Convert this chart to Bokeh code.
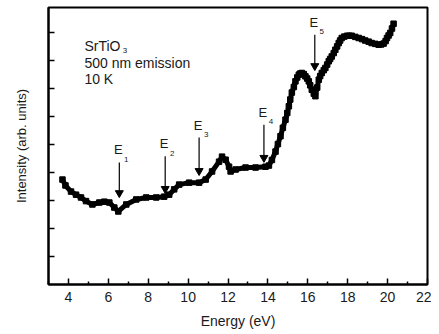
from bokeh.plotting import figure
from bokeh.models import FixedTicker, Range1d
from bokeh.core.properties import value
from bokeh.embed import file_html
from bokeh.resources import INLINE

# Data (energy in eV, intensity in arb. units)
energy = [3.70, 3.85, 4.13, 4.38, 4.63, 4.88, 5.20, 5.55, 5.80, 6.05, 6.30, 6.50,
          6.90, 7.40, 7.90, 8.40, 8.80, 9.05, 9.30, 9.55, 10.05, 10.55, 10.88, 11.20,
          11.55, 11.70, 11.88, 12.05, 12.13, 12.38, 12.88, 13.38, 13.88, 14.05,
          14.20, 14.38, 14.50, 14.63, 14.75, 14.88, 14.97, 15.05, 15.12, 15.20, 15.30,
          15.38, 15.47, 15.55, 15.62, 15.70, 15.80, 15.88, 15.97, 16.05, 16.12, 16.20,
          16.30, 16.38, 16.47, 16.55, 16.62, 16.70, 16.80, 16.88, 16.97, 17.05, 17.12,
          17.20, 17.30, 17.38, 17.47, 17.55, 17.62, 17.70, 17.83, 17.97, 18.08, 18.20,
          18.38, 18.55, 18.72, 18.88, 19.05, 19.20, 19.38, 19.55, 19.68, 19.80, 19.90,
          19.97, 20.05, 20.13, 20.22, 20.30]
intensity = [3.75, 3.54, 3.32, 3.21, 3.11, 2.98, 2.86, 2.93, 2.96, 2.93, 2.75, 2.61,
             2.86, 3.04, 3.11, 3.11, 3.14, 3.21, 3.40, 3.57, 3.64, 3.64, 3.75, 4.04,
             4.39, 4.57, 4.46, 4.21, 4.04, 4.11, 4.18, 4.18, 4.21, 4.25,
             4.45, 4.75, 5.02, 5.30, 5.60, 5.89, 6.13, 6.37, 6.61, 6.86, 7.06,
             7.26, 7.40, 7.50, 7.54, 7.56, 7.52, 7.44, 7.36, 7.26, 7.12, 6.96,
             6.82, 6.73, 7.04, 7.32, 7.45, 7.56, 7.66, 7.74, 7.86, 7.98, 8.06,
             8.15, 8.27, 8.39, 8.51, 8.63, 8.72, 8.81, 8.86, 8.89, 8.89, 8.89,
             8.85, 8.81, 8.77, 8.72, 8.68, 8.63, 8.60, 8.57, 8.58, 8.61, 8.70,
             8.81, 8.90, 8.99, 9.15, 9.32]

x_ticks = [4, 6, 8, 10, 12, 14, 16, 18, 20, 22]
x_minor = [3, 5, 7, 9, 11, 13, 15, 17, 19, 21]
y_ticks = [1, 2, 3, 4, 5, 6, 7, 8, 9]

# Arrows marking features: label, energy, arrow start (top), arrow tip
arrow_labels = ["1", "2", "3", "4", "5"]
arrow_energy = [6.55, 8.85, 10.55, 13.80, 16.35]
arrow_top = [4.36, 4.58, 5.25, 5.71, 8.93]
arrow_tip = [3.14, 3.29, 3.93, 4.40, 7.68]

FONT = "Liberation Sans"
TXT = "#1a1a1a"

p = figure(frame_width=379, frame_height=277, output_backend="svg",
           toolbar_location=None, x_range=Range1d(3, 22), y_range=Range1d(0, 9.9),
           min_border_left=48, min_border_right=4, min_border_top=7,
           min_border_bottom=41)
p.background_fill_color = "white"
p.border_fill_color = "white"
p.xgrid.visible = False
p.ygrid.visible = False
p.outline_line_color = "black"
p.outline_line_width = 2
p.outline_line_alpha = 1

# x axis
p.xaxis.ticker = FixedTicker(ticks=x_ticks, minor_ticks=x_minor)
p.xaxis.axis_label = "Energy (eV)"
p.xaxis.axis_line_width = 2
p.xaxis.major_tick_in = 6
p.xaxis.major_tick_out = 0
p.xaxis.minor_tick_in = 3
p.xaxis.minor_tick_out = 0
p.xaxis.major_tick_line_width = 1.5
p.xaxis.minor_tick_line_width = 1.5
p.xaxis.major_label_text_font = FONT
p.xaxis.major_label_text_font_size = "14px"
p.xaxis.major_label_text_color = TXT
p.xaxis.major_label_standoff = 7
p.xaxis.axis_label_text_font = FONT
p.xaxis.axis_label_text_font_size = "14px"
p.xaxis.axis_label_text_font_style = "normal"
p.xaxis.axis_label_text_color = TXT
p.xaxis.axis_label_standoff = 8

# y axis (ticks only, no tick labels)
p.yaxis.ticker = FixedTicker(ticks=y_ticks, minor_ticks=[])
p.yaxis.axis_label = "Intensity (arb. units)"
p.yaxis.axis_line_width = 2
p.yaxis.major_tick_in = 6
p.yaxis.major_tick_out = 0
p.yaxis.major_tick_line_width = 1.5
p.yaxis.major_label_text_font_size = "1px"
p.yaxis.major_label_text_color = None
p.yaxis.major_label_standoff = 0
p.yaxis.axis_label_text_font = FONT
p.yaxis.axis_label_text_font_size = "13px"
p.yaxis.axis_label_text_font_style = "normal"
p.yaxis.axis_label_text_color = TXT
p.yaxis.axis_label_standoff = 20

# data
p.line(energy, intensity, line_color="black", line_width=5)
p.scatter(energy, intensity, marker="square", size=5.5, color="black")

# arrows with E_n labels
for lab, e, t, b in zip(arrow_labels, arrow_energy, arrow_top, arrow_tip):
    p.segment(x0=[e], y0=[t], x1=[e], y1=[b + 0.2], line_color="black", line_width=1.2)
    p.scatter([e], [b + 0.13], marker="triangle", angle=3.14159, size=8, color="black")
    p.text([e - 0.05], [t + 0.18], text=["E"], text_font=value(FONT),
           text_font_size="13px", text_align="center", text_baseline="bottom",
           text_color=TXT)
    p.text([e + 0.24], [t + 0.02], text=[lab], text_font=value(FONT),
           text_font_size="8px", text_align="left", text_baseline="bottom",
           text_color=TXT)

# sample annotation
p.text([4.8], [8.52], text=["SrTiO"], text_font=value(FONT), text_font_size="14px",
       text_baseline="middle", text_align="left", text_color=TXT)
p.text([6.72], [8.36], text=["3"], text_font=value(FONT), text_font_size="8px",
       text_baseline="middle", text_align="left", text_color=TXT)
p.text([4.8], [7.92], text=["500 nm emission"], text_font=value(FONT),
       text_font_size="14px", text_baseline="middle", text_align="left",
       text_color=TXT)
p.text([4.8], [7.33], text=["10 K"], text_font=value(FONT), text_font_size="14px",
       text_baseline="middle", text_align="left", text_color=TXT)

open("out.html", "w").write(file_html(p, INLINE))
